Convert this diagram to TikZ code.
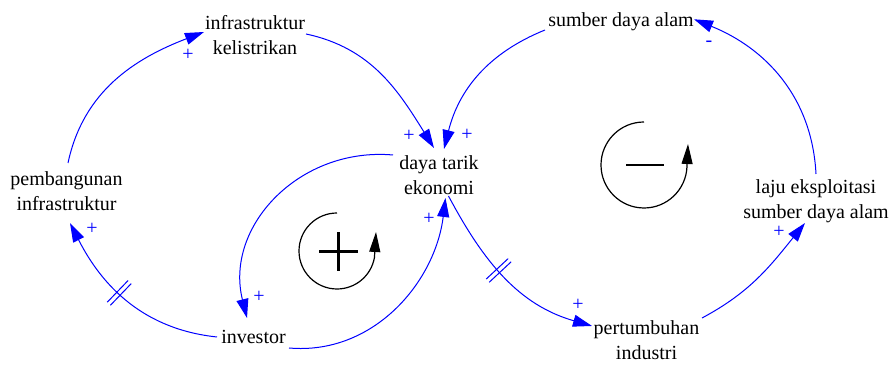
\documentclass[tikz,border=0pt]{standalone}
\usepackage{fontspec}
\setmainfont{Liberation Serif}
\usetikzlibrary{arrows.meta,decorations.markings}
\definecolor{cldblue}{HTML}{0000FF}
\tikzset{
  var/.style={font=\fontsize{10}{12.5}\selectfont,align=center,inner sep=1pt},
  causal/.style={draw=cldblue,line width=0.5pt,-{Triangle[length=9.5pt,width=6pt]},fill=none},
  pol/.style={font=\fontsize{10}{12}\selectfont,text=cldblue,inner sep=0pt},
  delay/.style={postaction={decorate,decoration={markings,
    mark=at position #1 with {\draw[-,cldblue,line width=0.5pt] (-1.1pt,-7.5pt) -- (-1.1pt,7.5pt);
                              \draw[-,cldblue,line width=0.5pt] (1.1pt,-7.5pt) -- (1.1pt,7.5pt);}}}},
  looparc/.style={line width=0.6pt,-{Triangle[length=10pt,width=5.5pt]}},
  loopsign/.style={line width=1.3pt}
}
\begin{document}
\begin{tikzpicture}[x=0.5pt,y=0.5pt]
  \useasboundingbox (0,0) rectangle (893,367);
  % Variables
  \node[var] (kelistrikan) at (255,331.5) {infrastruktur\\kelistrikan};
  \node[var] (dayatarik) at (439,192) {daya tarik\\ekonomi};
  \node[var] (sda) at (621,345.7) {sumber daya alam};
  \node[var] (laju) at (816,166) {laju eksploitasi\\sumber daya alam};
  \node[var] (industri) at (646.5,26.5) {pertumbuhan\\industri};
  \node[var] (investor) at (253.5,30.5) {investor};
  \node[var] (pembangunan) at (66.5,175.5) {pembangunan\\infrastruktur};

  % Causal links
  \draw[causal] ([shift={(1.5,28.5)}]pembangunan.center) to[out=78,in=201] ([shift={(-51,3.5)}]kelistrikan.center);
  \draw[causal] ([shift={(51,1.5)}]kelistrikan.center) to[out=-12,in=122] ([shift={(-5,27)}]dayatarik.center);
  \draw[causal] ([shift={(-76,-8.7)}]sda.center) to[out=202,in=76] ([shift={(5,26)}]dayatarik.center);
  \draw[causal] ([shift={(0,27)}]laju.center) to[out=93,in=338] ([shift={(73,2)}]sda.center);
  \draw[causal] ([shift={(55.5,22.5)}]industri.center) to[out=28,in=231] ([shift={(-11,-22)}]laju.center);
  \draw[causal,delay=0.45] ([shift={(9.5,-21)}]dayatarik.center) to[out=-62,in=164] ([shift={(-54.5,14.5)}]industri.center);
  \draw[causal] ([shift={(35.5,-11.5)}]investor.center) to[out=-5,in=263] ([shift={(6.5,-23)}]dayatarik.center);
  \draw[causal] ([shift={(-46,20)}]dayatarik.center) to[out=175,in=104,looseness=1.1] ([shift={(-6.5,18.5)}]investor.center);
  \draw[causal,delay=0.56] ([shift={(-36.5,-0.5)}]investor.center) to[out=174,in=297] ([shift={(3.5,-31.5)}]pembangunan.center);

  % Polarities
  \node[pol] (p1) at (188,312) {+};
  \node[pol] (p2) at (409,231) {+};
  \node[pol] (p3) at (467,232) {+};
  \node[pol] (p4) at (709,323) {-};
  \node[pol] (p5) at (779,135) {+};
  \node[pol] (p6) at (578,62) {+};
  \node[pol] (p7) at (429,148) {+};
  \node[pol] (p8) at (259,70) {+};
  \node[pol] (p9) at (92,138) {+};

  % Loop markers
  \draw[looparc] (337,154) arc[start angle=90,end angle=350,radius=38] -- (376,135);
  \draw[loopsign] (319,115.5) -- (358,115.5) (338.5,96) -- (338.5,135);
  \draw[looparc] (644,245) arc[start angle=90,end angle=357,radius=43] -- (688,223);
  \draw[loopsign] (626,202) -- (664,202);
\end{tikzpicture}
\end{document}
